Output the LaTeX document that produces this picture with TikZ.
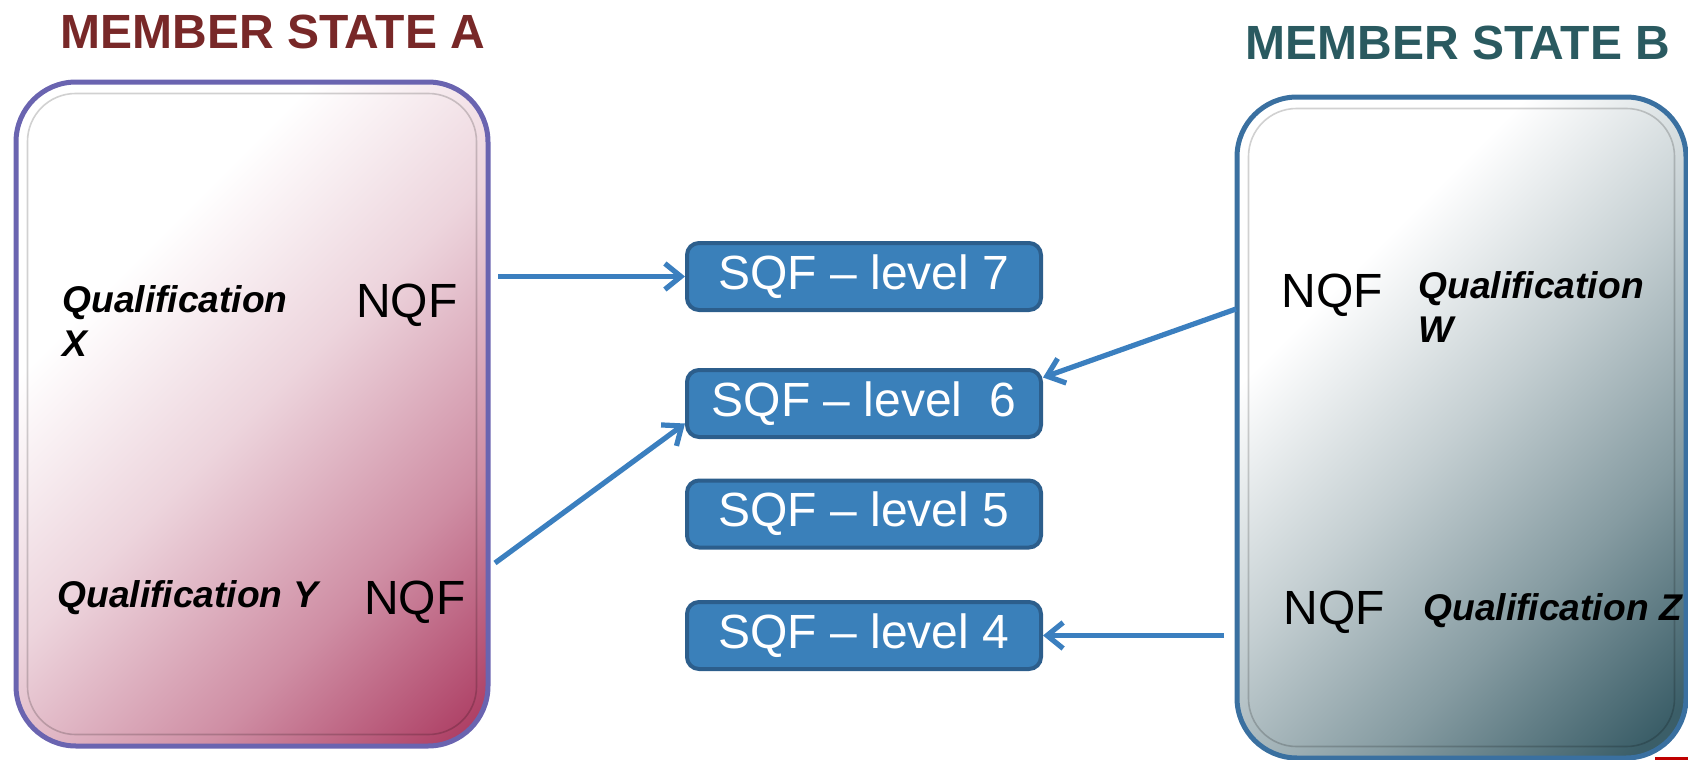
\documentclass[tikz,border=0pt]{standalone}
\usepackage{fontspec}
\setmainfont{Liberation Sans}
\usetikzlibrary{arrows.meta}

\definecolor{titleA}{HTML}{782828}
\definecolor{titleB}{HTML}{2A5A60}
\definecolor{fillA}{HTML}{AC3C62}
\definecolor{fillB}{HTML}{3B5E68}
\definecolor{lineA}{HTML}{6A64B0}
\definecolor{lineB}{HTML}{3A70A0}
\definecolor{sqfFill}{HTML}{3A80BA}
\definecolor{sqfLine}{HTML}{2C5E8C}
\definecolor{linkBlue}{HTML}{3B7FBF}

% diagonal fills of the two state boxes
\pgfdeclareverticalshading{shadeA}{100bp}{color(0bp)=(fillA); color(16bp)=(fillA); color(32bp)=(fillA!58); color(50bp)=(fillA!22); color(67bp)=(white); color(100bp)=(white)}
\pgfdeclareverticalshading{shadeB}{100bp}{color(0bp)=(fillB); color(18bp)=(fillB); color(34bp)=(fillB!62); color(50bp)=(fillB!30); color(67bp)=(white); color(100bp)=(white)}

\begin{document}
\begin{tikzpicture}[x=0.5pt,y=-0.5pt,
  state/.style={shade,shading angle=45,rounded corners=30pt,line width=2.5pt,inner sep=0pt},
  rim/.style={rounded corners=24pt,draw=black,draw opacity=0.18,line width=0.8pt},
  sqf/.style={draw=sqfLine,fill=sqfFill,line width=2pt,rounded corners=6pt,minimum width=177pt,minimum height=33.5pt,inner sep=0pt,text=white,font=\fontsize{24pt}{28pt}\selectfont},
  nqf/.style={inner sep=0pt,font=\fontsize{24pt}{28pt}\selectfont},
  qual/.style={anchor=west,inner sep=0pt,align=left,font=\fontsize{18.6pt}{22pt}\selectfont\bfseries\itshape},
  title/.style={anchor=base west,inner sep=0pt,font=\fontsize{24pt}{28pt}\selectfont\bfseries},
  link/.style={draw=linkBlue,line width=2.6pt,-{Straight Barb[length=8pt,width=13pt]}}]
\useasboundingbox (0,0) rectangle (1688,760);

% the two member states
\node[title,text=titleA] (titleA) at (60,48) {MEMBER STATE A};
\node[title,text=titleB] (titleB) at (1245,60) {MEMBER STATE B};

\node[state,draw=lineA,shading=shadeA,minimum width=236pt,minimum height=332pt] (stateA) at (252,414) {};
\draw[rim] ([shift={(14,14)}]stateA.north west) rectangle ([shift={(-14,-14)}]stateA.south east);

\node[state,draw=lineB,shading=shadeB,minimum width=224.5pt,minimum height=330.5pt] (stateB) at (1461.5,427.5) {};
\draw[rim] ([shift={(14,14)}]stateB.north west) rectangle ([shift={(-14,-14)}]stateB.south east);

% qualifications
\node[qual] (qX) at (62,321) {Qualification\\X};
\node[nqf] (nqfX) at (407,305) {NQF};
\node[qual] (qY) at (57,598) {Qualification Y};
\node[nqf] (nqfY) at (415,602) {NQF};
\node[nqf] (nqfW) at (1332,295) {NQF};
\node[qual] (qW) at (1418,307) {Qualification\\W};
\node[nqf] (nqfZ) at (1334,612) {NQF};
\node[qual] (qZ) at (1423,611) {Qualification Z};

% SQF levels
\node[sqf] (l7) at (864,276.5) {SQF -- level 7};
\node[sqf] (l6) at (864,403.5) {SQF -- level\ \ 6};
\node[sqf] (l5) at (864,514) {SQF -- level 5};
\node[sqf] (l4) at (864,635.5) {SQF -- level 4};

% links
\coordinate (fromX) at (498,276.5);
\coordinate (fromY) at (495,563);
\coordinate (fromW) at (1236,309);
\coordinate (fromZ) at (1224,635.5);
\draw[link] (fromX) -- (l7.west);
\draw[link] (fromY) -- ([yshift=-10pt]l6.west);
\draw[link] (fromW) -- ([yshift=13pt]l6.east);
\draw[link] (fromZ) -- (l4.east);

\fill[red!75!black] (1655,757) rectangle (1688,762);
\end{tikzpicture}
\end{document}
